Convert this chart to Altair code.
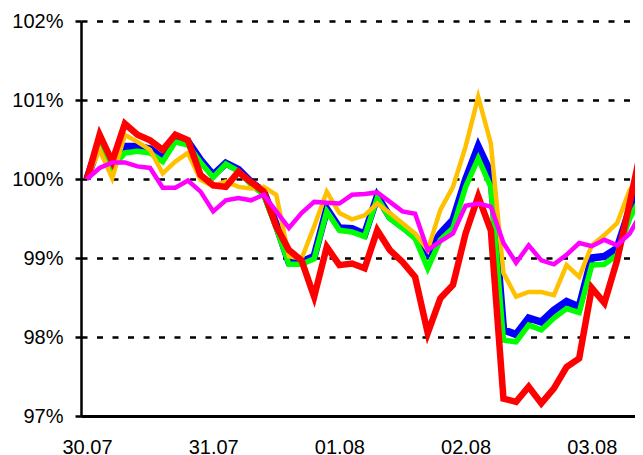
import altair as alt
import pandas as pd

# x-axis category labels (one label every 10 observations)
day_labels = ["30.07", "31.07", "01.08", "02.08", "03.08"]
day_ticks = [0, 10, 20, 30, 40]

# y-axis tick values (percent)
y_ticks = [97, 98, 99, 100, 101, 102]

# series values (percent of start), 45 observations each
red = [100.00, 100.56, 100.22, 100.70, 100.56, 100.49, 100.37, 100.56, 100.49, 100.05,
       99.92, 99.90, 100.09, 99.96, 99.84, 99.40, 99.10, 98.97, 98.51, 99.14,
       98.91, 98.93, 98.87, 99.35, 99.10, 98.95, 98.76, 98.05, 98.49, 98.66,
       99.31, 99.78, 99.35, 97.22, 97.18, 97.37, 97.16, 97.35, 97.62, 97.73,
       98.62, 98.43, 98.97, 99.69, 100.45]
yellow = [100.00, 100.37, 100.01, 100.56, 100.47, 100.37, 100.07, 100.22, 100.33, 99.99,
          99.91, 99.97, 99.90, 99.88, 99.90, 99.80, 99.02, 98.99, 99.40, 99.84,
          99.57, 99.49, 99.54, 99.69, 99.57, 99.44, 99.31, 99.10, 99.61, 99.90,
          100.41, 101.04, 100.45, 98.81, 98.51, 98.57, 98.57, 98.53, 98.91, 98.76,
          99.16, 99.29, 99.44, 99.86, 100.07]
blue = [100.00, 100.47, 100.16, 100.41, 100.41, 100.38, 100.26, 100.51, 100.47, 100.24,
        100.05, 100.20, 100.12, 99.96, 99.84, 99.42, 98.95, 98.95, 99.02, 99.62,
        99.38, 99.37, 99.30, 99.78, 99.52, 99.40, 99.27, 99.06, 99.31, 99.48,
        99.99, 100.41, 100.07, 98.09, 98.03, 98.24, 98.19, 98.34, 98.45, 98.38,
        99.00, 99.02, 99.12, 99.61, 99.90]
green = [100.00, 100.45, 100.14, 100.33, 100.35, 100.33, 100.22, 100.47, 100.43, 100.21,
         100.02, 100.19, 100.10, 99.93, 99.80, 99.38, 98.92, 98.92, 98.99, 99.59,
         99.35, 99.33, 99.27, 99.76, 99.50, 99.38, 99.25, 98.87, 99.23, 99.38,
         99.90, 100.26, 99.90, 97.96, 97.94, 98.15, 98.09, 98.24, 98.36, 98.31,
         98.91, 98.92, 99.04, 99.50, 99.80]
magenta = [100.00, 100.14, 100.21, 100.21, 100.16, 100.14, 99.89, 99.89, 99.98, 99.84,
           99.59, 99.73, 99.76, 99.73, 99.80, 99.59, 99.38, 99.57, 99.71, 99.70,
           99.69, 99.80, 99.81, 99.83, 99.71, 99.59, 99.56, 99.10, 99.21, 99.31,
           99.66, 99.69, 99.65, 99.19, 98.94, 99.16, 98.97, 98.92, 99.04, 99.19,
           99.15, 99.23, 99.16, 99.31, 99.59]

# drawing order bottom -> top, with colour and stroke width
series = [
    ("blue", blue, "#0000FF", 7.5),
    ("green", green, "#00FF00", 5.5),
    ("yellow", yellow, "#FFC000", 4.5),
    ("red", red, "#FF0000", 6.5),
    ("magenta", magenta, "#FF00FF", 4.5),
]

rows = []
for name, vals, _, _ in series:
    for i, v in enumerate(vals):
        rows.append({"i": i, "value": v, "series": name})
df = pd.DataFrame(rows)

label_expr = "[" + ",".join(f"'{d}'" for d in day_labels) + "][round(datum.value / 10)]"

PLOT_W = 554
X_MIN = -0.475
X_MAX = X_MIN + PLOT_W / 12.62

x_enc = alt.X(
    "i:Q",
    scale=alt.Scale(domain=[X_MIN, X_MAX], nice=False, zero=False),
    axis=alt.Axis(
        values=day_ticks,
        labelExpr=label_expr,
        title=None,
        grid=False,
        ticks=False,
        domainColor="black",
        domainWidth=3,
        labelFont="Liberation Sans",
        labelFontSize=20,
        labelColor="black",
        labelPadding=21,
        labelOverlap=False,
        labelBound=False,
        labelFlush=False,
    ),
)
y_enc = alt.Y(
    "value:Q",
    scale=alt.Scale(domain=[97, 102], nice=False, zero=False),
    axis=alt.Axis(
        values=y_ticks,
        labelExpr="datum.value + '%'",
        title=None,
        grid=True,
        gridColor="black",
        gridDash=[6, 9.5],
        gridWidth=2.5,
        gridOpacity=1,
        ticks=True,
        tickSize=6,
        tickWidth=2.5,
        tickColor="black",
        domainColor="black",
        domainWidth=2.5,
        labelFont="Liberation Sans",
        labelFontSize=20,
        labelColor="black",
        labelPadding=12,
        labelOverlap=False,
    ),
)

layers = []
for idx, (name, vals, color, sw) in enumerate(series):
    base = alt.Chart(df).transform_filter(alt.datum.series == name)
    if idx == 0:
        enc = dict(x=x_enc, y=y_enc)
    else:
        enc = dict(x=alt.X("i:Q"), y=alt.Y("value:Q"))
    layers.append(
        base.mark_line(color=color, strokeWidth=sw, strokeJoin="miter",
                       strokeMiterLimit=4, clip=True).encode(**enc, order="i:Q")
    )

chart = (
    alt.layer(*layers)
    .properties(
        width=PLOT_W,
        height=395,
        autosize=alt.AutoSizeParams(type="none"),
        padding={"left": 73, "top": 13, "right": 0, "bottom": 39},
        background="white",
    )
    .configure_view(strokeWidth=0)
)

chart.save("out.html", embed_options={"renderer": "svg", "actions": False})
